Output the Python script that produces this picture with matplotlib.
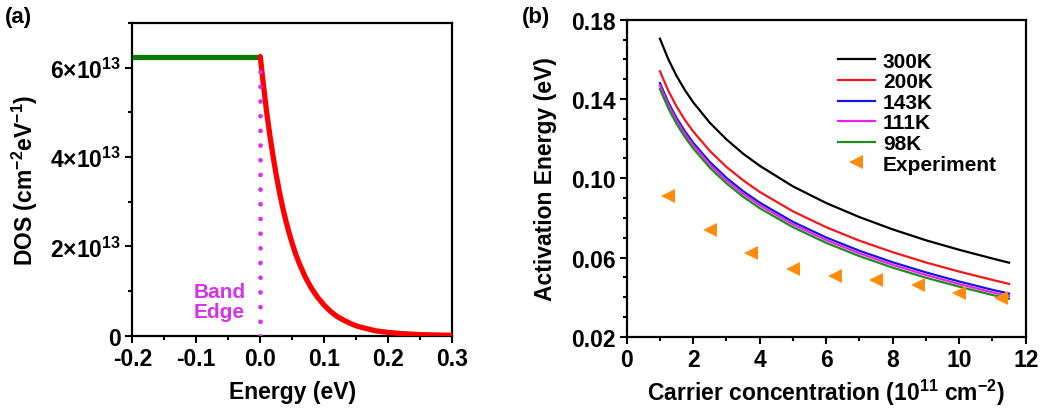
import numpy as np
import matplotlib
matplotlib.use("Agg")
import matplotlib.pyplot as plt
from matplotlib.ticker import MultipleLocator, FixedLocator, FixedFormatter, FormatStrFormatter

plt.rcParams['font.family'] = ['Liberation Sans', 'DejaVu Sans']
plt.rcParams['font.weight'] = 'bold'
plt.rcParams['axes.unicode_minus'] = False
plt.rcParams['mathtext.fontset'] = 'custom'
plt.rcParams['mathtext.rm'] = 'Liberation Sans:bold'
plt.rcParams['mathtext.it'] = 'Liberation Sans:bold'
plt.rcParams['mathtext.bf'] = 'Liberation Sans:bold'

# ---- (a) density of states: flat band + exponential tail ----
band_energy = [-0.2, 0.0]
band_dos = [6.25e13, 6.25e13]
tail_energy = [0.0, 0.005, 0.01, 0.015, 0.02, 0.025, 0.03, 0.035, 0.04, 0.045,
               0.05, 0.055, 0.06, 0.07, 0.08, 0.09, 0.10, 0.11, 0.12, 0.13,
               0.14, 0.15, 0.16, 0.18, 0.20, 0.22, 0.25, 0.30]
tail_dos = [6.25e13, 5.60e13, 5.00e13, 4.48e13, 4.01e13, 3.59e13, 3.21e13,
            2.87e13, 2.57e13, 2.30e13, 2.06e13, 1.84e13, 1.65e13, 1.32e13,
            1.06e13, 0.85e13, 0.68e13, 0.54e13, 0.43e13, 0.35e13, 0.28e13,
            0.22e13, 0.18e13, 0.11e13, 0.073e13, 0.047e13, 0.024e13, 0.008e13]
band_edge_energy = 0.0
dos_ticks = [0, 2e13, 4e13, 6e13]
dos_tick_labels = ['0', '2×10$^{13}$', '4×10$^{13}$', '6×10$^{13}$']

# ---- (b) activation energy vs carrier concentration ----
carrier = [1.0, 1.25, 1.5, 1.75, 2.0, 2.5, 3.0, 3.5, 4.0, 5.0, 6.0, 7.0, 8.0,
           9.0, 10.0, 11.0, 11.5]
ea_300K = [0.1704, 0.1601, 0.1516, 0.1445, 0.1383, 0.1280, 0.1196, 0.1124,
           0.1063, 0.0959, 0.0875, 0.0804, 0.0742, 0.0687, 0.0639, 0.0595, 0.0574]
ea_200K = [0.1540, 0.1442, 0.1362, 0.1294, 0.1236, 0.1138, 0.1057, 0.0990,
           0.0931, 0.0833, 0.0753, 0.0685, 0.0627, 0.0575, 0.0529, 0.0487, 0.0467]
ea_143K = [0.1480, 0.1383, 0.1304, 0.1237, 0.1179, 0.1082, 0.1002, 0.0935,
           0.0877, 0.0780, 0.0701, 0.0634, 0.0576, 0.0525, 0.0479, 0.0437, 0.0418]
ea_111K = [0.1467, 0.1370, 0.1291, 0.1224, 0.1166, 0.1069, 0.0989, 0.0922,
           0.0864, 0.0767, 0.0688, 0.0621, 0.0563, 0.0512, 0.0466, 0.0424, 0.0405]
ea_98K = [0.1450, 0.1353, 0.1274, 0.1208, 0.1150, 0.1053, 0.0974, 0.0907,
          0.0849, 0.0753, 0.0674, 0.0607, 0.0549, 0.0498, 0.0453, 0.0411, 0.0392]
exp_carrier = [1.25, 2.5, 3.75, 5.0, 6.25, 7.5, 8.75, 10.0, 11.25]
exp_ea = [0.0908, 0.0737, 0.0625, 0.0541, 0.0507, 0.0489, 0.0460, 0.0423, 0.0398]
ea_ticks = [0.02, 0.06, 0.10, 0.14, 0.18]

series_labels = ['300K', '200K', '143K', '111K', '98K']
series_colors = ['black', '#F01818', '#1414E6', '#F020F0', '#1E8C1E']

W, H = 1047, 410
fig = plt.figure(figsize=(W / 100, H / 100), dpi=100)

def frac(left, top, right, bottom):
    return [left / W, 1 - bottom / H, (right - left) / W, (bottom - top) / H]

tick_fs = 16.5
label_fs = 16.5

def style_axes(ax):
    for s in ax.spines.values():
        s.set_linewidth(1.6)
    ax.tick_params(which='both', direction='out', width=1.5, labelsize=tick_fs,
                   top=False, right=False)
    ax.tick_params(which='major', length=5, pad=3)
    ax.tick_params(which='minor', length=3)

# panel (a)
axa = fig.add_axes(frac(132.3, 24, 452.3, 336.7))
axa.plot(band_energy, band_dos, color='#0A7A0A', lw=3.8, solid_capstyle='butt', zorder=3)
axa.plot(tail_energy, tail_dos, color='#FF0000', lw=3.8, solid_capstyle='round', zorder=3)
axa.plot([band_edge_energy, band_edge_energy], [0, band_dos[0]], color='#D633E8',
         lw=3.4, linestyle=(0, (0.01, 3.1)), dash_capstyle='round', zorder=4)
axa.text(-0.064, 0.76e13, 'Band\nEdge', color='#D633E8', fontsize=15,
         fontweight='bold', ha='center', va='center', linespacing=1.05)
axa.set_xlim(-0.2, 0.3)
axa.set_ylim(0, 7e13)
axa.xaxis.set_major_locator(MultipleLocator(0.1))
axa.xaxis.set_minor_locator(MultipleLocator(0.05))
axa.xaxis.set_major_formatter(FormatStrFormatter('%.1f'))
axa.yaxis.set_major_locator(FixedLocator(dos_ticks))
axa.yaxis.set_major_formatter(FixedFormatter(dos_tick_labels))
axa.yaxis.set_minor_locator(MultipleLocator(1e13))
style_axes(axa)
axa.set_xlabel('Energy (eV)', fontsize=label_fs, fontweight='bold', labelpad=7)
axa.set_ylabel('DOS (cm$^{-2}$eV$^{-1}$)', fontsize=label_fs, fontweight='bold', labelpad=7)

# panel (b)
axb = fig.add_axes(frac(626.7, 20.7, 1025.7, 337.8))
for y, lab, col in zip([ea_300K, ea_200K, ea_143K, ea_111K, ea_98K], series_labels, series_colors):
    axb.plot(carrier, y, color=col, lw=1.6, label=lab)
axb.plot(exp_carrier, exp_ea, linestyle='none', marker='<', ms=9.5, color='#FF8C0A',
         markeredgewidth=0, label='Experiment')
axb.set_xlim(0, 12)
axb.set_ylim(0.02, 0.18)
axb.xaxis.set_major_locator(MultipleLocator(2))
axb.xaxis.set_minor_locator(MultipleLocator(1))
axb.yaxis.set_major_locator(FixedLocator(ea_ticks))
axb.yaxis.set_minor_locator(MultipleLocator(0.01))
axb.yaxis.set_major_formatter(FormatStrFormatter('%.2f'))
style_axes(axb)
axb.set_xlabel('Carrier concentration (10$^{11}$ cm$^{-2}$)', fontsize=label_fs,
               fontweight='bold', labelpad=4)
axb.set_ylabel('Activation Energy (eV)', fontsize=label_fs, fontweight='bold', labelpad=10)
axb.legend(loc='upper left', bbox_to_anchor=(0.53, 0.899), frameon=False,
           handlelength=1.75, handletextpad=0.4, labelspacing=0.075,
           borderpad=0, borderaxespad=0, numpoints=1,
           prop={'weight': 'bold', 'size': 15})

fig.text(5 / W, 1 - 17 / H, '(a)', fontsize=16, fontweight='bold', va='center', ha='left')
fig.text(522 / W, 1 - 17 / H, '(b)', fontsize=16, fontweight='bold', va='center', ha='left')

fig.savefig('out.png', dpi=100)
